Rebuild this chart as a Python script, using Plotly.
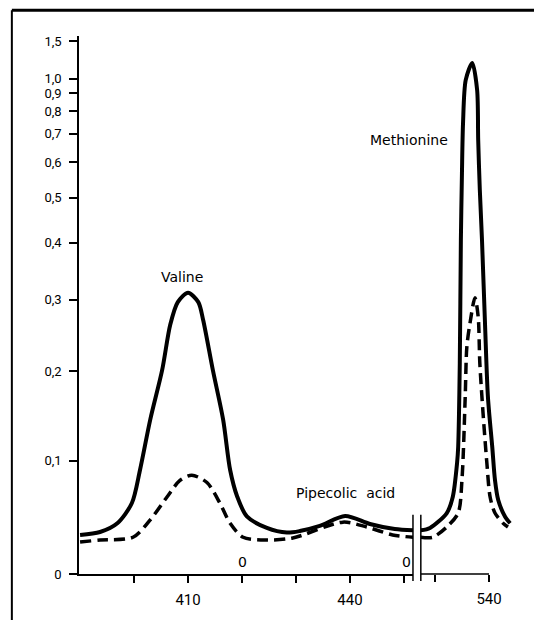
import numpy as np
import plotly.graph_objects as go

# ---- data: elution position (left and right part of broken axis) and absorbance ----
solid_left_x = [390.0, 393.7, 396.9, 399.6, 401.1, 403.0, 405.2, 406.7, 408.1, 410.0, 411.9,
                412.8, 414.6, 416.5, 417.8, 419.1, 420.9, 424.6, 428.3, 430.7, 434.4, 439.1,
                443.7, 448.3, 451.7]
solid_left_a = [0.032, 0.0345, 0.042, 0.060, 0.091, 0.143, 0.201, 0.262, 0.296, 0.311, 0.296,
                0.269, 0.201, 0.143, 0.091, 0.066, 0.048, 0.038, 0.034, 0.0353, 0.0397, 0.0484,
                0.0414, 0.037, 0.036]

solid_right_x = [527.4, 529.1, 532.2, 533.3, 534.1, 534.3, 534.6, 534.8, 535.0, 535.2, 535.7,
                 536.9, 537.8, 538.0, 538.3, 538.7, 539.3, 539.8, 540.6, 541.1, 541.7, 543.0, 543.9]
solid_right_a = [0.036, 0.038, 0.051, 0.0655, 0.098, 0.114, 0.210, 0.406, 0.567, 0.745, 0.992,
                 1.149, 0.921, 0.676, 0.520, 0.406, 0.2546, 0.1686, 0.114, 0.0814, 0.0627, 0.0475, 0.042]

dashed_left_x = [390.0, 393.7, 399.8, 403.0, 406.1, 408.5, 410.7, 413.5, 415.9, 417.8, 420.2,
                 424.6, 429.4, 438.7, 443.1, 447.9, 451.7]
dashed_left_a = [0.026, 0.0277, 0.030, 0.045, 0.0655, 0.081, 0.086, 0.079, 0.060, 0.042, 0.030,
                 0.0277, 0.0294, 0.043, 0.0388, 0.032, 0.030]

dashed_right_x = [527.4, 529.6, 532.2, 534.3, 535.0, 535.6, 535.9, 536.5, 537.4, 538.0, 538.3,
                  538.9, 539.6, 540.2, 541.1, 542.6, 543.5]
dashed_right_a = [0.030, 0.030, 0.0388, 0.051, 0.0814, 0.1686, 0.231, 0.265, 0.303, 0.2735, 0.210,
                  0.150, 0.098, 0.0655, 0.051, 0.042, 0.0388]

y_tick_values = [0, 0.1, 0.2, 0.3, 0.4, 0.5, 0.6, 0.7, 0.8, 0.9, 1.0, 1.5]
y_tick_labels = ["0", "0,1", "0,2", "0,3", "0,4", "0,5", "0,6", "0,7", "0,8", "0,9", "1,0", "1,5"]

x_left_ticks = [400, 410, 420, 430, 440, 450]
x_left_labels = ["", "410", "", "", "440", ""]
x_right_ticks = [530, 540]
x_right_labels = ["", "540"]


def to_scale(a):
    # the ordinate is linear in transmission: position = 1 - 10^(-absorbance)
    return 1 - np.power(10.0, -np.asarray(a, dtype=float))


FONT = "Roboto"
ANN_FONT = "DejaVu Sans"
fig = go.Figure()

line_solid = dict(color="black", width=4, shape="spline", smoothing=0.8)
line_dash = dict(color="black", width=3.5, dash="11px,6px", shape="spline", smoothing=0.8)

fig.add_trace(go.Scatter(x=solid_left_x, y=to_scale(solid_left_a), mode="lines",
                         line=line_solid, xaxis="x", yaxis="y", showlegend=False))
fig.add_trace(go.Scatter(x=dashed_left_x, y=to_scale(dashed_left_a), mode="lines",
                         line=line_dash, xaxis="x", yaxis="y", showlegend=False))
fig.add_trace(go.Scatter(x=solid_right_x, y=to_scale(solid_right_a), mode="lines",
                         line=line_solid, xaxis="x2", yaxis="y", showlegend=False))
fig.add_trace(go.Scatter(x=dashed_right_x, y=to_scale(dashed_right_a), mode="lines",
                         line=line_dash, xaxis="x2", yaxis="y", showlegend=False))

axis_common = dict(showgrid=False, zeroline=False, ticks="outside", tickwidth=1.5,
                   tickcolor="black", tickfont=dict(family=FONT, size=15, color="black"))

fig.update_layout(
    width=542, height=620,
    margin=dict(l=71, r=35, t=28, b=54),
    paper_bgcolor="white", plot_bgcolor="white",
    xaxis=dict(domain=[0, 0.766], range=[389.8, 451.67], tickvals=x_left_ticks,
               ticktext=x_left_labels, ticklen=7, showline=True, linewidth=1.5,
               linecolor="black", anchor="y", ticklabelstandoff=4, **axis_common),
    xaxis2=dict(domain=[0.784, 1], range=[527.4, 544.8], tickvals=x_right_ticks,
                ticktext=x_right_labels, ticklen=7, showline=False, anchor="y",
                ticklabelstandoff=4, **axis_common),
    yaxis=dict(range=[0, 0.978], tickvals=list(to_scale(y_tick_values)), ticktext=y_tick_labels,
               ticklen=8, showline=True, linewidth=1.5, linecolor="black", anchor="x",
               ticklabelstandoff=5,
               **{**axis_common, "tickfont": dict(family=FONT, size=13, color="black")}),
)

# right part of abscissa line and the axis break marks
fig.add_shape(type="line", xref="x2", yref="paper", x0=527.4, x1=540, y0=0, y1=0,
              line=dict(color="black", width=1.5))
for xp in (0.766, 0.784):
    fig.add_shape(type="line", xref="paper", yref="paper", x0=xp, x1=xp, y0=-0.013, y1=0.11,
                  line=dict(color="black", width=1.5))

# scanned page frame
fig.add_shape(type="line", xref="paper", yref="paper", x0=-0.154, x1=-0.154, y0=-0.09, y1=1.048,
              line=dict(color="black", width=2))
fig.add_shape(type="line", xref="paper", yref="paper", x0=-0.154, x1=1.07, y0=1.048, y1=1.048,
              line=dict(color="black", width=3))

ann_font = dict(family=ANN_FONT, size=14, color="black")
labels = [
    ("Valine", 0.237, 0.552, "center"),
    ("Methionine", 0.851, 0.807, "right"),
    ("Pipecolic  acid", 0.612, 0.151, "center"),
    ("0", 0.374, 0.022, "center"),
    ("0", 0.750, 0.022, "center"),
]
for text, xp, yp, anchor in labels:
    fig.add_annotation(text=text, x=xp, y=yp, xref="paper", yref="paper", showarrow=False,
                       xanchor=anchor, yanchor="middle", font=ann_font)

fig.write_html("out.html")
